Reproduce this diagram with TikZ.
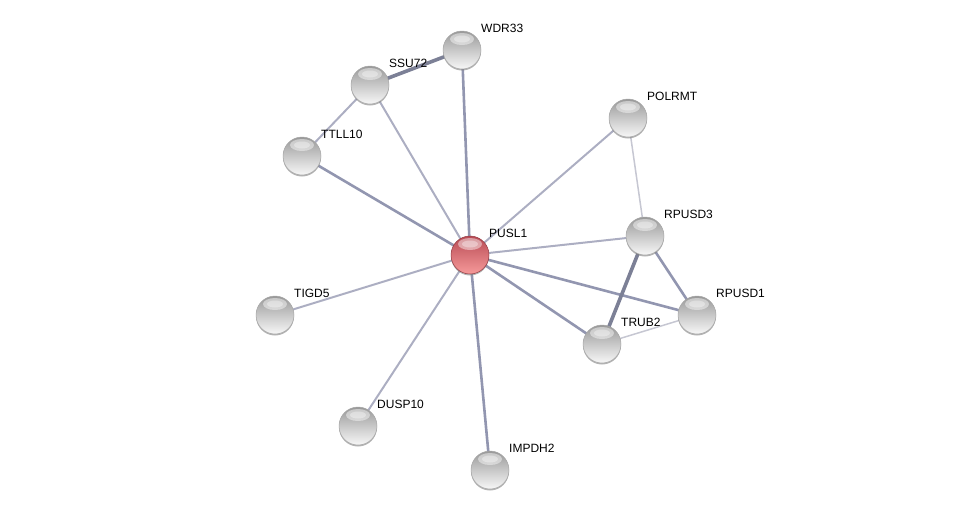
\documentclass[tikz,border=0pt]{standalone}
\usepackage{fontspec}
\setmainfont{Liberation Sans}
\usetikzlibrary{backgrounds}
\definecolor{edgeA}{RGB}{172,174,194}
\definecolor{edgeB}{RGB}{146,150,176}
\definecolor{edgeC}{RGB}{198,199,210}
\definecolor{redtop}{RGB}{184,74,84}
\definecolor{redmid}{RGB}{222,116,122}
\definecolor{redbot}{RGB}{246,154,154}
\tikzset{
  ball/.style={circle, minimum size=38pt, inner sep=0pt,
    top color=black!40, middle color=black!13, bottom color=black!3,
    draw=black!35, line width=0.5pt,
    preaction={fill=black!50, opacity=0.6, transform canvas={yshift=-1.5pt}},
    path picture={\fill[white,opacity=0.45] ([yshift=-8pt]path picture bounding box.north) ellipse (12pt and 6pt);
                  \fill[white,opacity=0.35] ([yshift=-8pt]path picture bounding box.north) ellipse (8pt and 3.5pt);}},
  redball/.style={ball, top color=redtop, middle color=redmid, bottom color=redbot, draw=redtop!80!black},
  lbl/.style={anchor=west, inner sep=0pt, font=\fontsize{12}{12}\selectfont, text=black},
  e1/.style={draw=edgeA, line width=2pt},
  e2/.style={draw=edgeB, line width=2.6pt},
  e3/.style={draw=edgeB!85!black, line width=3.6pt},
  e0/.style={draw=edgeC, line width=1.5pt}
}
\begin{document}
\begin{tikzpicture}[x=1pt,y=-1pt]
\useasboundingbox (0,0) rectangle (976,515);
% nodes
\node[ball] (wdr33) at (462,50) {};
\node[ball] (ssu72) at (370,85) {};
\node[ball] (ttll10) at (302,156) {};
\node[ball] (polrmt) at (628,118) {};
\node[redball] (pusl1) at (470,255) {};
\node[ball] (rpusd3) at (645,236) {};
\node[ball] (tigd5) at (275,315) {};
\node[ball] (rpusd1) at (697,315) {};
\node[ball] (trub2) at (602,344) {};
\node[ball] (dusp10) at (358,426) {};
\node[ball] (impdh2) at (490,470) {};
% edges
\begin{pgfonlayer}{background}
\path[e1] (pusl1.center) -- (ssu72.center);
\path[e2] (pusl1.center) -- (wdr33.center);
\path[e2] (pusl1.center) -- (ttll10.center);
\path[e1] (pusl1.center) -- (polrmt.center);
\path[e1] (pusl1.center) -- (rpusd3.center);
\path[e2] (pusl1.center) -- (rpusd1.center);
\path[e2] (pusl1.center) -- (trub2.center);
\path[e1] (pusl1.center) -- (tigd5.center);
\path[e1] (pusl1.center) -- (dusp10.center);
\path[e2] (pusl1.center) -- (impdh2.center);
\path[e3] (ssu72.center) -- (wdr33.center);
\path[e1] (ssu72.center) -- (ttll10.center);
\path[e0] (polrmt.center) -- (rpusd3.center);
\path[e3] (rpusd3.center) -- (trub2.center);
\path[e2] (rpusd3.center) -- (rpusd1.center);
\path[e0] (trub2.center) -- (rpusd1.center);
\end{pgfonlayer}
% labels
\node[lbl] (wdr33l) at (481,28) {WDR33};
\node[lbl] (ssu72l) at (389,63) {SSU72};
\node[lbl] (ttll10l) at (321,134) {TTLL10};
\node[lbl] (polrmtl) at (647,96) {POLRMT};
\node[lbl] (pusl1l) at (489,233) {PUSL1};
\node[lbl] (rpusd3l) at (664,214) {RPUSD3};
\node[lbl] (tigd5l) at (294,293) {TIGD5};
\node[lbl] (rpusd1l) at (716,293) {RPUSD1};
\node[lbl] (trub2l) at (621,322) {TRUB2};
\node[lbl] (dusp10l) at (377,404) {DUSP10};
\node[lbl] (impdh2l) at (509,448) {IMPDH2};
\end{tikzpicture}
\end{document}
